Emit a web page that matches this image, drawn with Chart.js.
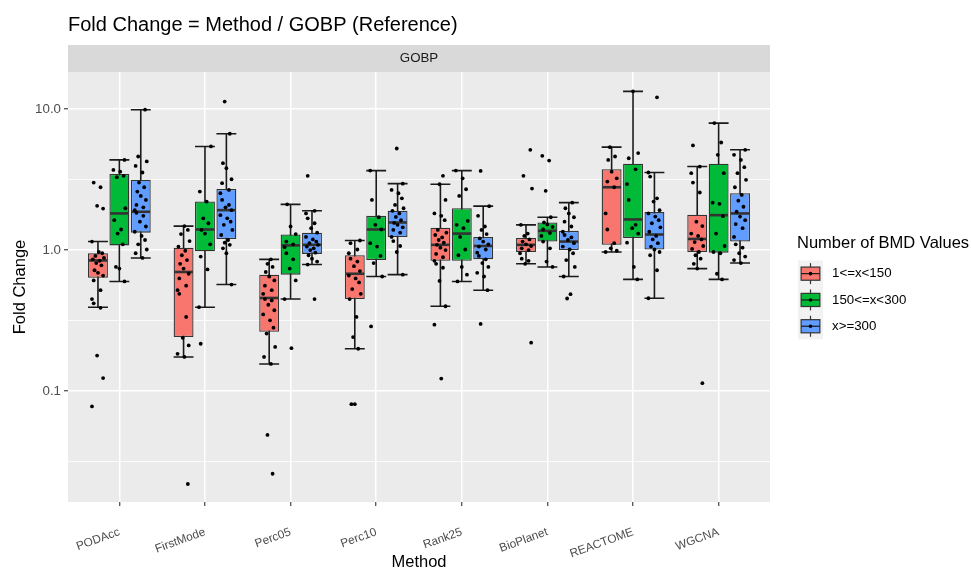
<!DOCTYPE html>
<html lang="en">
<head>
  <meta charset="UTF-8">
  <title>Fold Change = Method / GOBP (Reference)</title>
  <script src="https://cdn.jsdelivr.net/npm/chart.js@4.4.1/dist/chart.umd.min.js"></script>
  <style>
    html, body { margin: 0; padding: 0; background: #fff; }
    #wrap { width: 971px; height: 572px; }
  </style>
</head>
<body>
  <div id="wrap"><canvas id="myChart" width="971" height="572"></canvas></div>
  <script>
    const METHODS = ['PODAcc', 'FirstMode', 'Perc05', 'Perc10', 'Rank25', 'BioPlanet', 'REACTOME', 'WGCNA'];
    const GROUPS = ['1<=x<150', '150<=x<300', 'x>=300'];
    const COLORS = ['#F8766D', '#00BA38', '#619CFF'];

    // y axis: log scale limits and breaks
    const Y_MIN = 0.0164;
    const Y_MAX = 18.3;
    const Y_GRID = [0.0316228, 0.1, 0.316228, 1, 3.16228, 10];
    const Y_LABELS = ['', '0.1', '', '1.0', '', '10.0'];

    // box stats per method: [lower whisker, Q1, median, Q3, upper whisker]
    const BOX_LOW = [
      [0.394, 0.636, 0.845, 0.95, 1.15],
      [0.175, 0.242, 0.70, 1.04, 1.48],
      [0.156, 0.264, 0.458, 0.67, 0.86],
      [0.20, 0.45, 0.68, 0.92, 1.17],
      [0.40, 0.84, 1.09, 1.44, 2.93],
      [0.80, 0.97, 1.09, 1.22, 1.51],
      [0.97, 1.09, 2.79, 3.74, 5.37],
      [0.74, 0.97, 1.20, 1.78, 3.91]
    ];
    const BOX_MID = [
      [0.60, 1.08, 1.82, 3.47, 4.36],
      [0.394, 0.98, 1.40, 2.21, 5.43],
      [0.45, 0.67, 1.08, 1.29, 2.11],
      [0.65, 0.85, 1.40, 1.75, 3.66],
      [0.60, 0.84, 1.31, 1.98, 3.66],
      [0.76, 1.15, 1.37, 1.57, 1.71],
      [0.62, 1.22, 1.65, 4.09, 13.35],
      [0.62, 0.96, 1.77, 4.09, 7.95]
    ];
    const BOX_HIGH = [
      [0.88, 1.33, 1.87, 3.15, 9.89],
      [0.57, 1.20, 1.92, 2.71, 6.68],
      [0.79, 0.94, 1.09, 1.33, 1.90],
      [0.67, 1.24, 1.57, 1.90, 2.96],
      [0.52, 0.86, 1.07, 1.24, 2.05],
      [0.65, 1.00, 1.15, 1.37, 2.17],
      [0.456, 1.01, 1.29, 1.86, 3.55],
      [0.81, 1.15, 1.82, 2.53, 5.14]
    ];

    // individual fold change values per method
    const PTS_LOW = [
      [3.01, 2.79, 2.06, 1.97, 1.15, 0.97, 0.95, 0.91, 0.88, 0.86, 0.84, 0.81, 0.78, 0.72, 0.69, 0.66, 0.61, 0.52, 0.45, 0.42, 0.39, 0.179, 0.124, 0.078],
      [1.48, 1.39, 1.30, 1.16, 1.06, 0.99, 0.92, 0.85, 0.80, 0.74, 0.68, 0.63, 0.56, 0.52, 0.49, 0.336, 0.239, 0.211, 0.184, 0.175, 0.022],
      [0.86, 0.80, 0.76, 0.70, 0.65, 0.61, 0.56, 0.52, 0.49, 0.45, 0.44, 0.41, 0.375, 0.35, 0.318, 0.282, 0.256, 0.206, 0.175, 0.156, 0.049, 0.026],
      [1.17, 1.12, 1.01, 0.95, 0.87, 0.83, 0.77, 0.71, 0.66, 0.63, 0.59, 0.53, 0.49, 0.45, 0.336, 0.242, 0.20, 0.081, 0.081],
      [3.36, 2.93, 2.27, 1.82, 1.75, 1.63, 1.39, 1.33, 1.28, 1.23, 1.18, 1.13, 1.09, 1.04, 1.00, 0.94, 0.89, 0.84, 0.80, 0.75, 0.605, 0.40, 0.296, 0.123],
      [5.14, 3.36, 2.73, 1.51, 1.31, 1.26, 1.19, 1.15, 1.10, 1.07, 1.03, 1.00, 0.95, 0.87, 0.84, 0.80, 0.221],
      [5.37, 4.61, 4.36, 3.60, 3.23, 3.06, 2.79, 1.82, 1.40, 1.12, 1.03, 0.99, 0.97],
      [5.52, 3.91, 3.51, 3.01, 2.56, 1.59, 1.48, 1.31, 1.26, 1.19, 1.14, 1.07, 1.02, 0.97, 0.92, 0.87, 0.80, 0.74, 0.114]
    ];
    const PTS_MID = [
      [4.36, 3.70, 3.60, 3.36, 3.29, 1.98, 1.63, 1.40, 1.31, 1.10, 0.76, 0.74, 0.60],
      [5.43, 2.60, 2.21, 1.68, 1.55, 1.39, 1.31, 1.10, 0.90, 0.73, 0.394, 0.217],
      [2.11, 1.47, 1.30, 1.15, 1.10, 1.05, 0.95, 0.86, 0.74, 0.61, 0.45, 0.202],
      [3.66, 2.27, 1.71, 1.51, 1.40, 1.12, 1.06, 0.91, 0.81, 0.65, 0.288],
      [3.66, 3.23, 2.70, 2.42, 1.61, 1.51, 1.43, 1.24, 1.01, 0.92, 0.76, 0.67, 0.60],
      [4.66, 4.31, 2.63, 1.71, 1.57, 1.52, 1.46, 1.40, 1.32, 1.26, 1.15, 1.03, 0.83, 0.76],
      [13.35, 4.87, 4.48, 3.74, 2.94, 2.27, 1.51, 1.43, 1.31, 1.13, 0.76, 0.62],
      [7.95, 5.79, 4.74, 3.51, 2.17, 2.13, 1.74, 1.31, 1.07, 0.97, 0.95, 0.68, 0.62]
    ];
    const PTS_HIGH = [
      [9.89, 4.61, 4.25, 3.95, 3.55, 3.01, 2.79, 2.60, 2.42, 2.27, 2.09, 2.01, 1.92, 1.84, 1.75, 1.59, 1.47, 1.35, 1.26, 1.18, 1.10, 1.01, 0.95, 0.88],
      [11.3, 6.68, 4.13, 3.81, 3.18, 2.98, 2.67, 2.53, 2.27, 2.09, 2.01, 1.92, 1.77, 1.68, 1.59, 1.51, 1.39, 1.28, 1.18, 1.13, 1.09, 1.03, 0.95, 0.57],
      [3.36, 1.90, 1.82, 1.68, 1.55, 1.43, 1.33, 1.24, 1.19, 1.15, 1.12, 1.09, 1.06, 1.03, 1.00, 0.96, 0.92, 0.87, 0.83, 0.79, 0.45],
      [5.25, 2.96, 2.67, 2.53, 2.33, 2.09, 1.98, 1.90, 1.82, 1.72, 1.63, 1.56, 1.51, 1.45, 1.39, 1.33, 1.24, 1.16, 1.07, 0.97, 0.67],
      [3.64, 2.05, 1.75, 1.47, 1.39, 1.30, 1.21, 1.15, 1.10, 1.06, 1.01, 0.96, 0.91, 0.86, 0.81, 0.76, 0.69, 0.65, 0.52, 0.30],
      [2.17, 1.98, 1.82, 1.71, 1.59, 1.47, 1.35, 1.28, 1.23, 1.18, 1.12, 1.06, 1.01, 0.95, 0.85, 0.76, 0.65, 0.487, 0.454],
      [12.1, 3.55, 3.32, 2.33, 2.21, 1.92, 1.82, 1.73, 1.63, 1.55, 1.45, 1.35, 1.26, 1.19, 1.12, 1.06, 1.01, 0.97, 0.92, 0.72, 0.456],
      [5.14, 4.74, 4.36, 3.87, 3.51, 3.15, 2.79, 2.46, 2.24, 2.03, 1.87, 1.73, 1.63, 1.53, 1.43, 1.24, 1.10, 1.04, 0.95, 0.90, 0.85, 0.81]
    ];

    const BOXES = [BOX_LOW, BOX_MID, BOX_HIGH];
    const POINTS = [PTS_LOW, PTS_MID, PTS_HIGH];

    // dodge offsets of the three groups, and a fixed jitter pattern for the dots
    const DODGE = [-0.25, 0, 0.25];
    const JITTER = [-0.05, 0.03, -0.01, 0.06, -0.07, 0.01, 0.05, -0.03, 0.07, -0.06, 0.02, -0.02, 0.04, -0.04, 0.0, 0.06, -0.05, 0.03, -0.07];

    const FONT = '"Liberation Sans", Arial, Helvetica, sans-serif';
    Chart.defaults.font.family = FONT;

    const pointData = [];
    POINTS.forEach((grp, g) => {
      grp.forEach((vals, m) => {
        vals.forEach((v, k) => {
          pointData.push({ x: m + DODGE[g] + JITTER[(k + m * 5 + g * 3) % JITTER.length], y: v });
        });
      });
    });

    const datasets = BOXES.map((boxes, g) => ({
      type: 'bar',
      label: GROUPS[g],
      data: boxes.map((b, m) => ({ x: m, y: [b[1], b[3]] })),
      backgroundColor: COLORS[g],
      borderColor: '#333333',
      borderWidth: 1.3,
      borderSkipped: false,
      categoryPercentage: 0.75,
      barPercentage: 0.93,
      order: 1
    }));
    datasets.push({
      type: 'scatter',
      label: 'points',
      data: pointData,
      backgroundColor: '#000',
      borderWidth: 0,
      pointRadius: 1.9,
      order: 0
    });

    // panel background, strip and title
    const backdrop = {
      id: 'backdrop',
      beforeDraw(chart) {
        const { ctx, chartArea: a } = chart;
        ctx.save();
        ctx.fillStyle = '#fff';
        ctx.fillRect(0, 0, chart.width, chart.height);
        ctx.fillStyle = '#ebebeb';
        ctx.fillRect(a.left, a.top, a.right - a.left, a.bottom - a.top);
        ctx.fillStyle = '#d9d9d9';
        ctx.fillRect(a.left, 45, a.right - a.left, a.top - 45);
        ctx.fillStyle = '#1a1a1a';
        ctx.font = '13.3px ' + FONT;
        ctx.textAlign = 'center';
        ctx.textBaseline = 'middle';
        ctx.fillText('GOBP', (a.left + a.right) / 2, (45 + a.top) / 2);
        ctx.fillStyle = '#000';
        ctx.font = '20px ' + FONT;
        ctx.textAlign = 'left';
        ctx.textBaseline = 'alphabetic';
        ctx.fillText('Fold Change = Method / GOBP (Reference)', a.left, 31);
        ctx.restore();
      }
    };

    // whiskers under the boxes, medians on top of them
    const boxParts = {
      id: 'boxParts',
      beforeDatasetsDraw(chart) {
        const { ctx } = chart;
        const y = chart.scales.y;
        ctx.save();
        ctx.strokeStyle = '#1a1a1a';
        ctx.lineWidth = 1.6;
        BOXES.forEach((boxes, g) => {
          const meta = chart.getDatasetMeta(g);
          meta.data.forEach((el, m) => {
            const b = boxes[m];
            const lo = y.getPixelForValue(b[0]);
            const hi = y.getPixelForValue(b[4]);
            const half = el.width / 2;
            ctx.beginPath();
            ctx.moveTo(el.x, lo); ctx.lineTo(el.x, hi);
            ctx.moveTo(el.x - half, lo); ctx.lineTo(el.x + half, lo);
            ctx.moveTo(el.x - half, hi); ctx.lineTo(el.x + half, hi);
            ctx.stroke();
          });
        });
        ctx.restore();
      },
      afterDatasetDraw(chart, args) {
        if (args.meta.type !== 'bar') return;
        const { ctx } = chart;
        const y = chart.scales.y;
        const boxes = BOXES[args.index];
        ctx.save();
        ctx.strokeStyle = '#333333';
        ctx.lineWidth = 2.6;
        args.meta.data.forEach((el, m) => {
          const py = y.getPixelForValue(boxes[m][2]);
          const half = el.width / 2 - 0.6;
          ctx.beginPath();
          ctx.moveTo(el.x - half, py); ctx.lineTo(el.x + half, py);
          ctx.stroke();
        });
        ctx.restore();
      }
    };

    // ggplot style legend with boxplot keys
    const boxLegend = {
      id: 'boxLegend',
      afterDraw(chart) {
        const { ctx } = chart;
        const left = 798, kw = 25, kh = 26.3, top = 260.5;
        ctx.save();
        ctx.fillStyle = '#000';
        ctx.font = '16.5px ' + FONT;
        ctx.textAlign = 'left';
        ctx.textBaseline = 'middle';
        ctx.fillText('Number of BMD Values', 797, 243.5);
        GROUPS.forEach((label, g) => {
          const t = top + g * kh;
          const cx = left + kw / 2, cy = t + kh / 2;
          ctx.fillStyle = '#f2f2f2';
          ctx.fillRect(left, t, kw, kh);
          ctx.strokeStyle = '#333333';
          ctx.lineWidth = 1.2;
          ctx.beginPath();
          ctx.moveTo(cx, t + kh * 0.1); ctx.lineTo(cx, t + kh * 0.9);
          ctx.stroke();
          ctx.fillStyle = COLORS[g];
          ctx.fillRect(left + kw * 0.125, t + kh * 0.25, kw * 0.75, kh * 0.5);
          ctx.strokeRect(left + kw * 0.125, t + kh * 0.25, kw * 0.75, kh * 0.5);
          ctx.strokeStyle = '#1a1a1a';
          ctx.beginPath();
          ctx.moveTo(left + kw * 0.125, cy); ctx.lineTo(left + kw * 0.875, cy);
          ctx.stroke();
          ctx.fillStyle = '#000';
          ctx.beginPath();
          ctx.arc(cx, cy, 1.8, 0, Math.PI * 2);
          ctx.fill();
          ctx.font = '13.3px ' + FONT;
          ctx.fillText(label, 832, cy);
        });
        ctx.restore();
      }
    };

    const ctx = document.getElementById('myChart').getContext('2d');
    const myChart = new Chart(ctx, {
      type: 'bar',
      data: { datasets: datasets },
      plugins: [backdrop, boxParts, boxLegend],
      options: {
        responsive: false,
        animation: false,
        layout: { padding: { left: 0, top: 72, right: 201, bottom: 0 } },
        plugins: {
          legend: { display: false },
          tooltip: { enabled: false },
          title: { display: false }
        },
        scales: {
          x: {
            type: 'linear',
            offset: false,
            min: -0.6,
            max: 7.6,
            afterBuildTicks: s => { s.ticks = METHODS.map((m, i) => ({ value: i })); },
            afterFit: s => { s.height = 70; },
            ticks: {
              callback: v => METHODS[v],
              minRotation: 20,
              maxRotation: 20,
              autoSkip: false,
              color: '#4d4d4d',
              font: { size: 11.8 },
              padding: 19
            },
            grid: { offset: false, color: '#ffffff', lineWidth: 1.5, tickLength: 4, tickColor: '#333333', tickWidth: 1.1 },
            border: { display: false },
            title: { display: true, text: 'Method', color: '#000', font: { size: 16.5 }, padding: { top: 0, bottom: 0 } }
          },
          y: {
            type: 'logarithmic',
            min: Y_MIN,
            max: Y_MAX,
            afterBuildTicks: s => { s.ticks = Y_GRID.map(v => ({ value: v })); },
            afterFit: s => { s.width = 68; },
            ticks: {
              callback: v => Y_LABELS[Y_GRID.indexOf(v)],
              autoSkip: false,
              color: '#4d4d4d',
              font: { size: 13.3 },
              padding: 3
            },
            grid: {
              color: '#ffffff',
              lineWidth: c => (c.tick && Y_LABELS[Y_GRID.indexOf(c.tick.value)] === '') ? 0.8 : 1.5,
              tickLength: 4,
              tickColor: c => (c.tick && Y_LABELS[Y_GRID.indexOf(c.tick.value)] === '') ? 'rgba(0,0,0,0)' : '#333333',
              tickWidth: 1.1
            },
            border: { display: false },
            title: { display: true, text: 'Fold Change', color: '#000', font: { size: 16.5 }, padding: { top: 11, bottom: 0 } }
          }
        }
      }
    });
  </script>
</body>
</html>
